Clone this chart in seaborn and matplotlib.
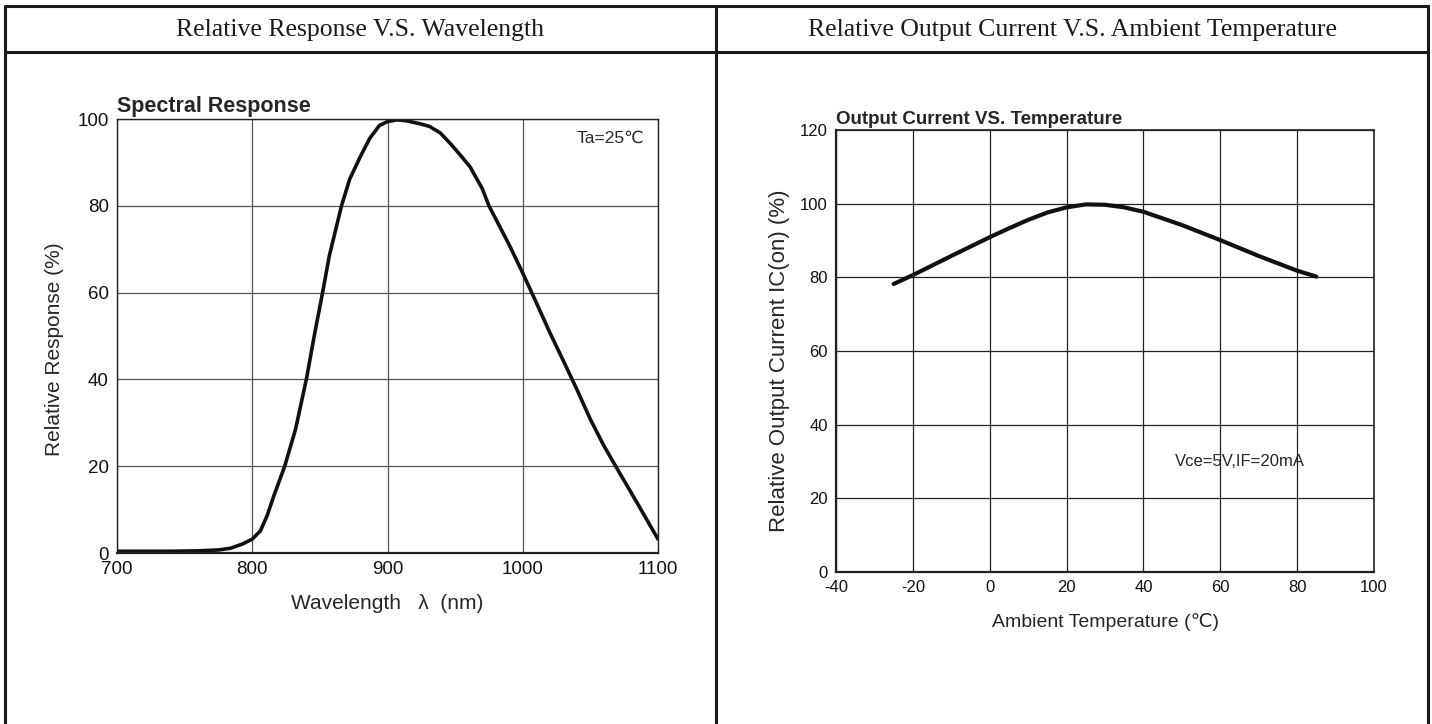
import numpy as np
import pandas as pd
import matplotlib
matplotlib.use('Agg')
import matplotlib.pyplot as plt
from matplotlib.lines import Line2D
import seaborn as sns

# spectral response readings
wavelength = [700, 740, 760, 775, 784, 793, 800, 806, 811, 816, 824, 832, 840, 846, 852,
              857, 866, 872, 880, 887, 894, 900, 907, 914, 924, 931, 939, 946, 953, 961,
              970, 975, 980, 990, 1000, 1010, 1020, 1030, 1040, 1050, 1060, 1070, 1080,
              1090, 1100]
response = [0.4, 0.4, 0.5, 0.7, 1.1, 2.1, 3.2, 5.1, 8.6, 13.2, 20, 28.5, 40, 50.3, 60,
            68.5, 80, 86.1, 91.4, 95.6, 98.5, 99.4, 99.8, 99.6, 98.9, 98.3, 96.8, 94.5,
            92, 89, 84, 80, 77, 71, 64.5, 57.7, 50.8, 44.3, 37.7, 30.8, 24.7, 19.3, 14,
            8.6, 3.2]

# output current vs temperature readings
temperature = [-25, -20, -10, 0, 5, 10, 15, 20, 25, 30, 35, 40, 50, 60, 70, 80, 85]
current = [78.2, 80.6, 85.8, 90.9, 93.3, 95.6, 97.6, 99, 99.8, 99.7, 99, 97.8, 94.2,
           90.1, 85.8, 81.8, 80.2]

sns.set_style('white')
plt.rcParams['font.family'] = ['Liberation Sans', 'DejaVu Sans']
plt.rcParams['axes.unicode_minus'] = False

W, H = 1432, 724
fig = plt.figure(figsize=(W / 100, H / 100), dpi=100)

def px_axes(x0, x1, ytop, ybot):
    return fig.add_axes([x0 / W, (H - ybot) / H, (x1 - x0) / W, (ybot - ytop) / H])

# table frame
def fline(x0, y0, x1, y1, lw=2.2):
    fig.add_artist(Line2D([x0 / W, x1 / W], [1 - y0 / H, 1 - y1 / H],
                          transform=fig.transFigure, color='#1a1a1a', lw=lw))

fline(5, 6, 1428, 6)
fline(5, 52, 1428, 52)
fline(5, 6, 5, 724)
fline(716, 6, 716, 724)
fline(1428, 6, 1428, 724)

serif = ['Liberation Serif', 'DejaVu Serif']
fig.text(360 / W, 1 - 30 / H, 'Relative Response V.S. Wavelength', ha='center', va='center',
         fontsize=18.5, family=serif, color='#1a1a1a')
fig.text(1072 / W, 1 - 30 / H, 'Relative Output Current V.S. Ambient Temperature', ha='center',
         va='center', fontsize=18.5, family=serif, color='#1a1a1a')

# left chart
ax1 = px_axes(117, 658, 119, 553)
df1 = pd.DataFrame({'wl': wavelength, 'r': response})
sns.lineplot(data=df1, x='wl', y='r', ax=ax1, color='#111111', lw=2.6)
ax1.set_xlim(700, 1100)
ax1.set_ylim(0, 100)
ax1.set_xticks([700, 800, 900, 1000, 1100])
ax1.set_yticks([0, 20, 40, 60, 80, 100])
ax1.grid(True, color='#555555', lw=0.9)
for s in ax1.spines.values():
    s.set_color('#222222')
    s.set_linewidth(1.0)
ax1.spines['bottom'].set_linewidth(1.6)
ax1.tick_params(length=0, labelsize=13.5, pad=6, colors='#111111')
ax1.set_xlabel('Wavelength   λ  (nm)', fontsize=15, labelpad=11)
ax1.set_ylabel('Relative Response (%)', fontsize=15)
ax1.yaxis.set_label_coords(-0.098, 0.47)
ax1.text(0, 1.005, 'Spectral Response', transform=ax1.transAxes, ha='left', va='bottom',
         fontsize=15.5, fontweight='bold')
ax1.text(0.975, 0.955, 'Ta=25℃', transform=ax1.transAxes, ha='right', va='center',
         fontsize=12.5)

# right chart
ax2 = px_axes(836, 1374, 130, 572)
df2 = pd.DataFrame({'t': temperature, 'c': current})
sns.lineplot(data=df2, x='t', y='c', ax=ax2, color='#111111', lw=3.0)
ax2.set_xlim(-40, 100)
ax2.set_ylim(0, 120)
ax2.set_xticks(range(-40, 101, 20))
ax2.set_yticks(range(0, 121, 20))
ax2.grid(True, color='#222222', lw=0.9)
for s in ax2.spines.values():
    s.set_color('#222222')
    s.set_linewidth(1.2)
ax2.spines['bottom'].set_linewidth(1.6)
ax2.spines['left'].set_linewidth(1.6)
ax2.tick_params(length=0, labelsize=12, pad=6, colors='#111111')
ax2.set_xlabel('Ambient Temperature (℃)', fontsize=14, labelpad=13)
ax2.set_ylabel('Relative Output Current IC(on) (%)', fontsize=16)
ax2.yaxis.set_label_coords(-0.0855, 0.477)
ax2.text(0, 1.005, 'Output Current VS. Temperature', transform=ax2.transAxes, ha='left',
         va='bottom', fontsize=13.5, fontweight='bold')
ax2.text(0.75, 0.25, 'Vce=5V,IF=20mA', transform=ax2.transAxes, ha='center', va='center',
         fontsize=12)

fig.savefig('out.png', dpi=100)
